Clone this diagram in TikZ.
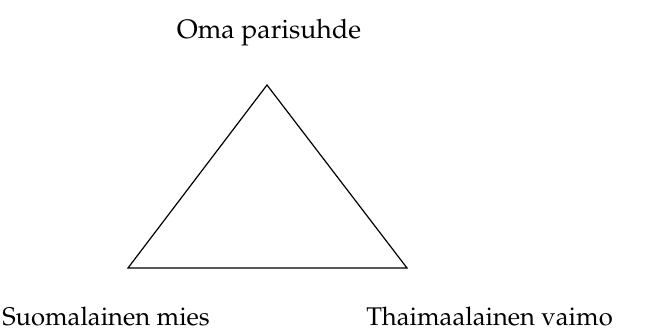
\documentclass[tikz,border=0pt]{standalone}
\usepackage[T1]{fontenc}
\usepackage{mathpazo}
\begin{document}
\begin{tikzpicture}[x=0.75pt,y=-0.75pt,
  lbl/.style={inner sep=0pt,font=\fontsize{19.2}{23}\selectfont}]
\useasboundingbox (0,0) rectangle (650,332);
\coordinate (top) at (267,85);
\coordinate (bl) at (128,268);
\coordinate (br) at (407,268);
\draw[line width=0.9pt,line join=miter] (top) -- (br) -- (bl) -- cycle;
\node[lbl,anchor=base,font=\fontsize{20}{24}\selectfont] (oma) at (269,38) {Oma parisuhde};
\node[lbl,anchor=base west] (fi) at (2,325) {Suomalainen mies};
\node[lbl,anchor=base west] (th) at (366,325) {Thaimaalainen vaimo};
\end{tikzpicture}
\end{document}
